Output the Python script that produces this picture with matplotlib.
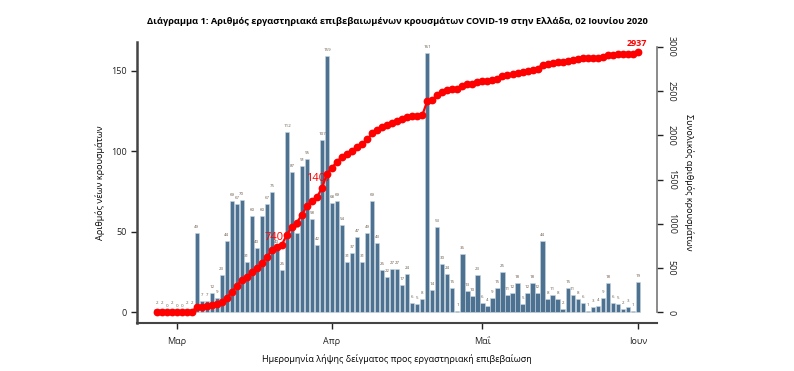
import matplotlib
matplotlib.use('Agg')
import matplotlib.pyplot as plt
import numpy as np
import pandas as pd

plt.rcParams['font.family'] = ['Open Sans', 'DejaVu Sans']

# ημερήσια νέα κρούσματα ανά ημερομηνία λήψης δείγματος (26/2 - 1/6)
start_date = '2020-02-26'
daily_cases = [
    2, 2, 0, 2, 0, 0, 2, 2,
    49, 7, 7, 12, 9, 23, 44, 69, 67, 70,
    31, 60, 40, 60, 67, 75, 40, 26, 112, 87,
    49, 91, 95, 58, 42, 107, 159, 68, 69, 54,
    31, 37, 47, 31, 49, 69, 43, 26, 22, 27,
    27, 17, 24, 6, 5, 8, 161, 14, 53, 30,
    24, 15, 1, 36, 13, 10, 23, 6, 4, 9,
    15, 25, 11, 12, 18, 5, 12, 18, 12, 44,
    8, 11, 8, 2, 15, 11, 8, 6, 1, 3,
    4, 9, 18, 6, 5, 2, 3, 1, 19,
]
highlight_totals = [740, 1407]
month_ticks = ['2020-03-01', '2020-04-01', '2020-05-01', '2020-06-01']
month_labels = ['Μαρ', 'Απρ', 'Μαΐ', 'Ιουν']

title = ('Διάγραμμα 1: Αριθμός εργαστηριακά επιβεβαιωμένων κρουσμάτων '
         'COVID-19 στην Ελλάδα, 02 Ιουνίου 2020')
xlabel = 'Ημερομηνία λήψης δείγματος προς εργαστηριακή επιβεβαίωση'
ylabel_left = 'Αριθμός νέων κρουσμάτων'
ylabel_right = 'Συνολικός αριθμός κρουσμάτων'

dates = pd.date_range(start_date, periods=len(daily_cases), freq='D')
daily = np.array(daily_cases)
cumulative = np.cumsum(daily)

BAR_COLOR = '#4d7191'
RED = '#ff0000'
AXIS_COLOR = '#444444'

fig = plt.figure(figsize=(7.94, 3.71), dpi=100)
ax = fig.add_axes([0.1725, 0.130, 0.655, 0.757])

ax.bar(dates, daily, width=0.85, color=BAR_COLOR, edgecolor='#c8d5e0',
       linewidth=0.4, zorder=2)
for d, v in zip(dates, daily):
    ax.text(d, v + 2.5, str(v), ha='center', va='bottom', fontsize=3.2,
            color='#6b5b4b', zorder=3)

ax.set_ylim(-6.5, 168)
ax.set_yticks([0, 50, 100, 150])
ax.set_xlim(pd.Timestamp('2020-02-22 02:00'), pd.Timestamp('2020-06-04 20:00'))
ax.set_xticks(pd.to_datetime(month_ticks))
ax.set_xticklabels(month_labels)
ax.tick_params(axis='both', labelsize=6.5, colors='#222222', length=4,
               width=1, pad=3)
ax.tick_params(axis='x', pad=6)
ax.spines['top'].set_visible(False)
ax.spines['right'].set_visible(False)
ax.spines['left'].set_color(AXIS_COLOR)
ax.spines['left'].set_linewidth(1.8)
ax.spines['bottom'].set_color(AXIS_COLOR)
ax.spines['bottom'].set_linewidth(1.5)
ax.set_ylabel(ylabel_left, fontsize=6.5, labelpad=5)
ax.set_xlabel(xlabel, fontsize=6.5, labelpad=6)

# συνολικά κρούσματα στο δεξί άξονα
ax2 = ax.twinx()
ax2.plot(dates, cumulative, color=RED, linewidth=1.6, marker='o',
         markersize=4.6, zorder=4)
ax2.set_ylim(-117, 3053)
ax2.set_yticks([0, 500, 1000, 1500, 2000, 2500, 3000])
ax2.tick_params(axis='y', labelsize=6.5, colors='#222222', length=4,
                width=1, pad=3)
for lbl in ax2.get_yticklabels():
    lbl.set_rotation(-90)
    lbl.set_va('center')
for side in ['top', 'left', 'bottom']:
    ax2.spines[side].set_visible(False)
ax2.spines['right'].set_bounds(0, 3000)
ax2.spines['right'].set_color('#777777')
ax2.spines['right'].set_linewidth(1.2)
ax2.set_ylabel(ylabel_right, fontsize=6.5, rotation=-90, labelpad=13)

for total in highlight_totals:
    i = int(np.argmax(cumulative >= total))
    ax2.annotate(str(cumulative[i]), (dates[i], cumulative[i]),
                 xytext=(-2, 3), textcoords='offset points',
                 ha='center', va='bottom', fontsize=8, color=RED, zorder=5)
ax2.annotate(str(cumulative[-1]), (dates[-1], cumulative[-1]),
             xytext=(-1, 3), textcoords='offset points',
             ha='center', va='bottom', fontsize=6.5, color=RED,
             fontweight='bold', zorder=5)

fig.suptitle(title, fontsize=6.7, fontweight='bold', x=0.5, y=0.955)

fig.savefig('out.png', dpi=100, facecolor='white')
